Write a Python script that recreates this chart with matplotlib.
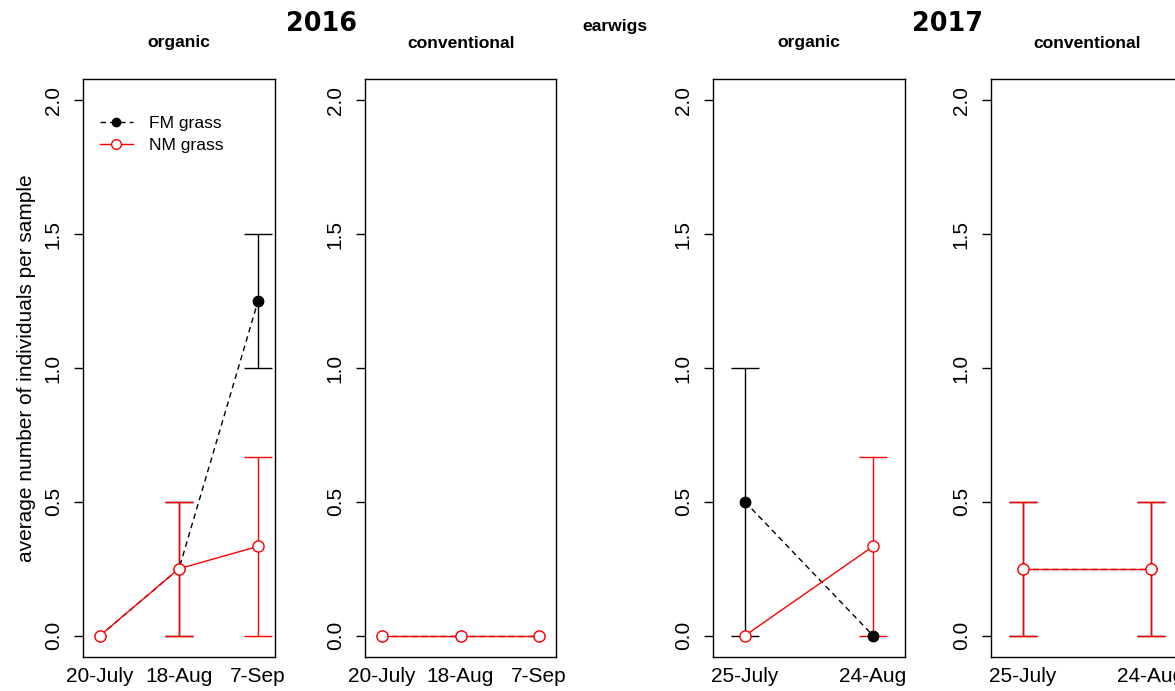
import numpy as np
import matplotlib
matplotlib.use("Agg")
import matplotlib.pyplot as plt
from matplotlib.lines import Line2D

plt.rcParams['font.family'] = ['Liberation Sans', 'DejaVu Sans']

# ---------------------------------------------------------
# earwig counts per sample (mean, lower, upper)
# ---------------------------------------------------------
dates_2016 = ["20-July", "18-Aug", "7-Sep"]
dates_2017 = ["25-July", "24-Aug"]

fm_2016_org = [0.0, 0.25, 1.25]
fm_2016_org_lo = [0.0, 0.0, 1.0]
fm_2016_org_hi = [0.0, 0.5, 1.5]
nm_2016_org = [0.0, 0.25, 1 / 3]
nm_2016_org_lo = [0.0, 0.0, 0.0]
nm_2016_org_hi = [0.0, 0.5, 2 / 3]

fm_2016_con = [0.0, 0.0, 0.0]
fm_2016_con_lo = [0.0, 0.0, 0.0]
fm_2016_con_hi = [0.0, 0.0, 0.0]
nm_2016_con = [0.0, 0.0, 0.0]
nm_2016_con_lo = [0.0, 0.0, 0.0]
nm_2016_con_hi = [0.0, 0.0, 0.0]

fm_2017_org = [0.5, 0.0]
fm_2017_org_lo = [0.0, 0.0]
fm_2017_org_hi = [1.0, 0.0]
nm_2017_org = [0.0, 1 / 3]
nm_2017_org_lo = [0.0, 0.0]
nm_2017_org_hi = [0.0, 2 / 3]

fm_2017_con = [0.25, 0.25]
fm_2017_con_lo = [0.0, 0.0]
fm_2017_con_hi = [0.5, 0.5]
nm_2017_con = [0.25, 0.25]
nm_2017_con_lo = [0.0, 0.0]
nm_2017_con_hi = [0.5, 0.5]

W, H = 1175, 691
fig = plt.figure(figsize=(W / 100, H / 100), dpi=100)


def px_axes(left, right, top=79, bottom=657):
    return fig.add_axes([left / W, 1 - bottom / H, (right - left) / W, (bottom - top) / H])


def bars(ax, x, lo, hi, color):
    # skip zero-length bars, like arrows() does
    x, lo, hi = np.asarray(x), np.asarray(lo), np.asarray(hi)
    keep = hi > lo
    if not keep.any():
        return
    mid = (lo + hi) / 2
    ax.errorbar(x[keep], mid[keep], yerr=((hi - lo) / 2)[keep], fmt='none',
                ecolor=color, elinewidth=1.0, capsize=10, capthick=1.0, zorder=2)


def panel(ax, dates, fm, fm_lo, fm_hi, nm, nm_lo, nm_hi, pad_x):
    x = np.arange(1, len(dates) + 1)
    bars(ax, x, fm_lo, fm_hi, 'black')
    ax.plot(x, fm, color='black', ls=(0, (4, 3)), lw=1.0, marker='o', ms=7.5,
            mfc='black', mec='black', zorder=3)
    bars(ax, x, nm_lo, nm_hi, 'red')
    ax.plot(x, nm, color='red', lw=1.0, marker='o', ms=8, mfc='white',
            mec='red', mew=1.0, zorder=4)
    ax.set_xlim(1 - pad_x, len(dates) + pad_x)
    ax.set_ylim(-0.08, 2.08)
    ax.set_xticks(x)
    ax.set_xticklabels(dates)
    ax.set_yticks([0, 0.5, 1.0, 1.5, 2.0])
    ax.set_yticklabels(["0.0", "0.5", "1.0", "1.5", "2.0"], rotation=90, va='center')
    ax.tick_params(axis='x', length=0, pad=7, labelsize=15)
    ax.tick_params(axis='y', length=6.5, width=1.0, pad=8, labelsize=15)
    for s in ax.spines.values():
        s.set_linewidth(1.0)


ax1 = px_axes(83, 275)
ax2 = px_axes(365, 556)
ax3 = px_axes(713, 905)
ax4 = px_axes(991, 1183)

panel(ax1, dates_2016, fm_2016_org, fm_2016_org_lo, fm_2016_org_hi,
      nm_2016_org, nm_2016_org_lo, nm_2016_org_hi, 0.215)
panel(ax2, dates_2016, fm_2016_con, fm_2016_con_lo, fm_2016_con_hi,
      nm_2016_con, nm_2016_con_lo, nm_2016_con_hi, 0.215)
panel(ax3, dates_2017, fm_2017_org, fm_2017_org_lo, fm_2017_org_hi,
      nm_2017_org, nm_2017_org_lo, nm_2017_org_hi, 0.25)
panel(ax4, dates_2017, fm_2017_con, fm_2017_con_lo, fm_2017_con_hi,
      nm_2017_con, nm_2017_con_lo, nm_2017_con_hi, 0.25)

ax1.set_ylabel("average number of individuals per sample", fontsize=15, labelpad=6)

handles = [
    Line2D([], [], color='black', ls=(0, (4, 3)), lw=1.0, marker='o', ms=6, mfc='black'),
    Line2D([], [], color='red', lw=1.0, marker='o', ms=7, mfc='white', mec='red'),
]
ax1.legend(handles, ["FM grass", "NM grass"], loc='upper left', bbox_to_anchor=(0.05, 0.948),
           frameon=False, fontsize=12.6, handlelength=1.9, handletextpad=0.9,
           labelspacing=0.38, borderaxespad=0)

# panel titles and year headings
for xc, label in [(179, "organic"), (461, "conventional"), (809, "organic"), (1087, "conventional")]:
    fig.text(xc / W, 1 - 43 / H, label, ha='center', va='center', fontsize=12.6, fontweight='bold')
fig.text(615 / W, 1 - 27 / H, "earwigs", ha='center', va='center', fontsize=12.6, fontweight='bold')
for xc, year in [(321, "2016"), (948, "2017")]:
    fig.text(xc / W, 1 - 24 / H, year, ha='center', va='center', fontsize=18.4,
             fontweight='bold', family='DejaVu Sans')

fig.savefig("out.png", dpi=100)
